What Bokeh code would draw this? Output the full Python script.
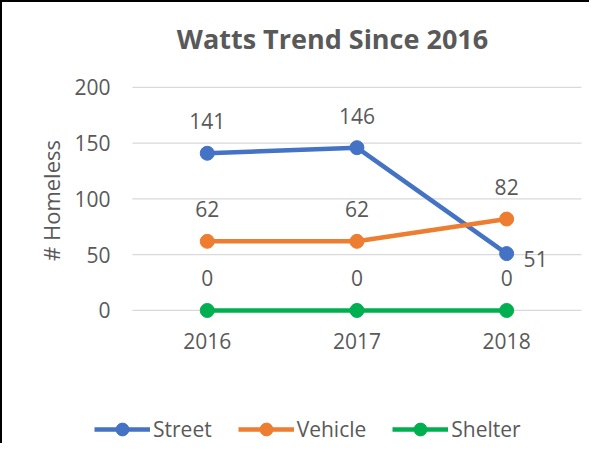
import math
from bokeh.plotting import figure
from bokeh.models import Range1d, FixedTicker, Label, Legend, LegendItem, ColumnDataSource
from bokeh.core.properties import value
from bokeh.embed import file_html
from bokeh.resources import INLINE

# ---- data ----
years = ["2016", "2017", "2018"]
series_names = ["Street", "Vehicle", "Shelter"]
street = [141, 146, 51]
vehicle = [62, 62, 82]
shelter = [0, 0, 0]
y_ticks = [0, 50, 100, 150, 200]
title_text = "Watts Trend Since 2016"
y_label = "# Homeless"

# ---- styles ----
colors = ["#4472C4", "#ED7D31", "#00B050"]
FONT = "Open Sans"
TXT = "#595959"
label_offsets = {
    "Street": [(0, -32), (0, -32), (29, 5)],
    "Vehicle": [(0, -32), (0, -32), (0, -32)],
    "Shelter": [(0, -32), (0, -32), (0, -32)],
}

xs = list(range(len(years)))          # category slots
x_lo, x_hi = -0.5, len(years) - 0.5   # category band edges

p = figure(
    x_range=Range1d(-1.368, 2.567),
    y_range=Range1d(-121.1, 276.2),
    width=589, height=443,
    min_border_left=0, min_border_right=0,
    min_border_top=0, min_border_bottom=0,
    output_backend="svg", toolbar_location=None,
)
p.styles = {"border-left": "2px solid #000000", "border-top": "2px solid #000000"}
p.outline_line_color = None
p.background_fill_color = "white"
p.border_fill_color = "white"
p.xgrid.visible = False
p.ygrid.visible = False

# horizontal gridlines across the category bands
p.segment(x0=[x_lo] * len(y_ticks), x1=[x_hi] * len(y_ticks), y0=y_ticks, y1=y_ticks,
          line_color="#D9D9D9", line_width=1.3)

p.xaxis.ticker = FixedTicker(ticks=xs)
p.xaxis.major_label_overrides = {i: y for i, y in zip(xs, years)}
p.yaxis.ticker = FixedTicker(ticks=y_ticks)

for ax in (p.xaxis[0], p.yaxis[0]):
    ax.axis_line_color = None
    ax.major_tick_line_color = None
    ax.minor_tick_line_color = None
    ax.major_tick_out = 0
    ax.major_tick_in = 0
    ax.minor_tick_out = 0
    ax.minor_tick_in = 0
    ax.major_label_text_font = FONT
    ax.major_label_text_font_size = "21px"
    ax.major_label_text_color = TXT

p.xaxis.fixed_location = -18.8
p.yaxis.fixed_location = x_lo
p.yaxis.major_label_standoff = 22
p.xaxis.major_label_standoff = 2

items = []
label_srcs = []
for name, vals, col in zip(series_names, [street, vehicle, shelter], colors):
    src = ColumnDataSource(dict(x=xs, y=vals))
    r1 = p.line("x", "y", source=src, line_color=col, line_width=4.5)
    r2 = p.scatter("x", "y", source=src, size=14, fill_color=col, line_color=col)
    items.append(LegendItem(label=name, renderers=[r1, r2]))
    offs = label_offsets[name]
    label_srcs.append(ColumnDataSource(dict(
        x=xs, y=vals, t=[str(v) for v in vals],
        dx=[o[0] for o in offs], dy=[o[1] for o in offs],
    )))

for ls in label_srcs:
    p.text("x", "y", text="t", source=ls, x_offset="dx", y_offset="dy",
           text_align="center", text_baseline="middle",
           text_font=value(FONT), text_font_size="21px", text_color=TXT)

legend = Legend(
    items=items, orientation="horizontal", location=(92, 0),
    glyph_width=56, glyph_height=32, label_standoff=3, spacing=26,
    padding=0, margin=0, border_line_color=None, background_fill_alpha=0,
    label_text_font=FONT, label_text_font_size="21px", label_text_color=TXT,
)
p.add_layout(legend)

# vertical axis title
p.add_layout(Label(
    x=48, y=245, x_units="screen", y_units="screen", text=y_label,
    angle=math.pi / 2, text_align="center", text_baseline="middle",
    text_font=FONT, text_font_size="22px", text_color=TXT,
))

# chart title
p.add_layout(Label(
    x=330, y=407, x_units="screen", y_units="screen", text=title_text,
    text_align="center", text_baseline="middle",
    text_font=FONT, text_font_size="27px", text_font_style="bold", text_color=TXT,
))

open("out.html", "w").write(file_html(p, INLINE))
